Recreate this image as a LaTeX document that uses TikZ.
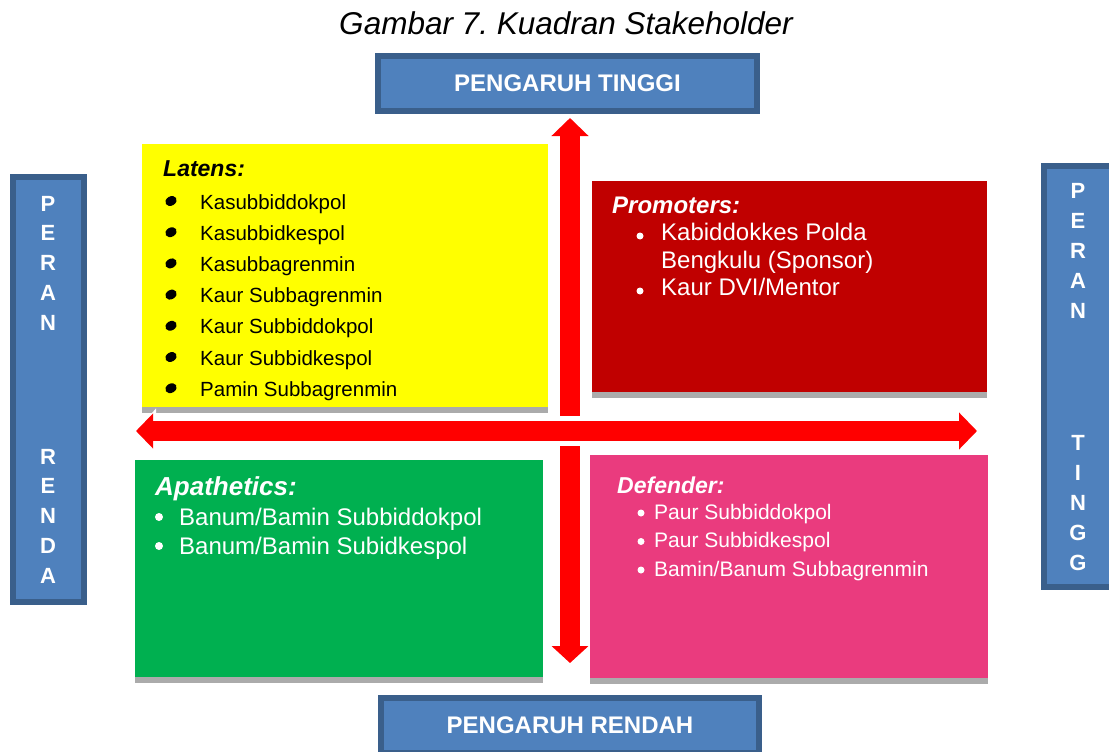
\documentclass[tikz,border=0pt]{standalone}
\usepackage{fontspec}
\setmainfont{Liberation Sans}
\usetikzlibrary{arrows.meta,positioning}
\definecolor{axisblue}{HTML}{4F81BD}
\definecolor{axisborder}{HTML}{3A5F8B}
\definecolor{latensyellow}{HTML}{FFFF00}
\definecolor{promotersred}{HTML}{C00000}
\definecolor{apathgreen}{HTML}{00B050}
\definecolor{defenderpink}{HTML}{EA3B7E}
\definecolor{shadowgray}{HTML}{ABABAB}
\definecolor{arrowred}{HTML}{FF0000}

\tikzset{
  axisbox/.style={draw=axisborder, fill=axisblue, line width=6pt, inner sep=0pt},
  axistext/.style={text=white, font=\fontsize{24}{28}\selectfont\bfseries},
  sideletter/.style={text=white, inner sep=0pt, anchor=base, font=\fontsize{22}{26}\selectfont\bfseries},
  quadbox/.style={anchor=north west, inner sep=0pt, draw=none},
  quadtitle/.style={anchor=base west, inner sep=0pt},
  entry/.style={anchor=base west, inner sep=0pt},
  bigarrow/.style={arrowred, line width=20pt},
}

\begin{document}
\begin{tikzpicture}[x=1pt,y=-1pt]
\clip (0,0) rectangle (1109,752);
\fill[white] (0,0) rectangle (1109,752);

% title
\node[anchor=base, inner sep=0pt, font=\fontsize{31.5}{36}\selectfont\itshape] (title) at (566,35) {Gambar 7.\ Kuadran Stakeholder};

% axis labels
\node[axisbox, axistext, minimum width=379pt, minimum height=55pt] (pengaruhtinggi) at (567.5,83.5) {PENGARUH TINGGI};
\node[axisbox, axistext, minimum width=378pt, minimum height=55pt] (pengaruhrendah) at (570,725.5) {PENGARUH RENDAH};

\node[axisbox, minimum width=71pt, minimum height=425pt] (peranrendah) at (48.5,389.5) {};
\foreach \ch [count=\i] in {P,E,R,A,N}
  \node[sideletter] (prl\i) at (48,{211+29.75*(\i-1)}) {\ch};
\foreach \ch [count=\i] in {R,E,N,D,A}
  \node[sideletter] (prr\i) at (48,{464+29.75*(\i-1)}) {\ch};

\node[axisbox, minimum width=71pt, minimum height=421pt] (perantinggi) at (1079.5,376.5) {};
\foreach \ch [count=\i] in {P,E,R,A,N}
  \node[sideletter] (ptl\i) at (1078,{198+30*(\i-1)}) {\ch};
\foreach \ch [count=\i] in {T,I,N,G,G}
  \node[sideletter] (ptr\i) at (1078,{450+30*(\i-1)}) {\ch};

% quadrants
\node[quadbox, fill=latensyellow, minimum width=406pt, minimum height=263pt] (latens) at (142,144) {};
\node[quadbox, fill=promotersred, minimum width=395pt, minimum height=211pt] (promoters) at (592,181) {};
\node[quadbox, fill=apathgreen, minimum width=408pt, minimum height=217pt] (apathetics) at (135,460) {};
\node[quadbox, fill=defenderpink, minimum width=398pt, minimum height=223pt] (defender) at (590,455) {};

% latens
\node[quadtitle, font=\fontsize{23}{27}\selectfont\bfseries\itshape] (latenstitle) at (163,176) {Latens:};
\foreach \name [count=\i, evaluate=\i as \by using 209+31.2*(\i-1)] in {Kasubbiddokpol,Kasubbidkespol,Kasubbagrenmin,Kaur Subbagrenmin,Kaur Subbiddokpol,Kaur Subbidkespol,Pamin Subbagrenmin} {
  \fill[shift={(171,\by-8)}, rotate=30] (0,0) ellipse [x radius=6pt, y radius=4.6pt];
  \node[entry, font=\fontsize{20.5}{24}\selectfont] (lat\i) at (200,\by) {\name};
}

% promoters
\node[quadtitle, text=white, font=\fontsize{24}{28}\selectfont\bfseries\itshape] (promtitle) at (612,213) {Promoters:};
\fill[white] (640,236) circle [radius=3.5pt];
\node[entry, text=white, font=\fontsize{24}{28}\selectfont] (prom1) at (661,240) {Kabiddokkes Polda};
\node[entry, text=white, font=\fontsize{24}{28}\selectfont] (prom2) at (661,268) {Bengkulu (Sponsor)};
\fill[white] (640,291) circle [radius=3.5pt];
\node[entry, text=white, font=\fontsize{24}{28}\selectfont] (prom3) at (661,295) {Kaur DVI/Mentor};

% apathetics
\node[quadtitle, text=white, font=\fontsize{26}{30}\selectfont\bfseries\itshape] (apattitle) at (155,495) {Apathetics:};
\foreach \name [count=\i, evaluate=\i as \by using 525+29*(\i-1)] in {Banum/Bamin Subbiddokpol,Banum/Bamin Subidkespol} {
  \fill[white] (159,\by-8) circle [radius=4pt];
  \node[entry, text=white, font=\fontsize{24}{28}\selectfont] (apa\i) at (179,\by) {\name};
}

% defender
\node[quadtitle, text=white, font=\fontsize{23}{27}\selectfont\bfseries\itshape] (deftitle) at (617,493) {Defender:};
\foreach \name [count=\i, evaluate=\i as \by using 519+28.5*(\i-1)] in {Paur Subbiddokpol,Paur Subbidkespol,Bamin/Banum Subbagrenmin} {
  \fill[white] (641,\by-6) circle [radius=3.5pt];
  \node[entry, text=white, font=\fontsize{21}{25}\selectfont] (def\i) at (654,\by) {\name};
}

% shadows
\foreach \q in {latens,promoters,apathetics,defender}
  \fill[shadowgray] (\q.south west) rectangle ([yshift=-6pt]\q.south east);

% arrows
\coordinate (vtop) at (570,118);
\coordinate (vbot) at (570,663);
\coordinate (hleft) at (136,431);
\coordinate (hright) at (977,431);
\draw[bigarrow, {Triangle[length=18pt,width=36pt]}-{Triangle[length=17pt,width=36pt]}] (vtop) -- (vbot);
\draw[white, line width=30pt, {Triangle[length=20pt,width=44pt]}-{Triangle[length=21pt,width=46pt]}] (hleft) -- (hright);
\draw[bigarrow, {Triangle[length=17pt,width=34pt]}-{Triangle[length=18pt,width=36pt]}] (hleft) -- (hright);
\end{tikzpicture}
\end{document}
